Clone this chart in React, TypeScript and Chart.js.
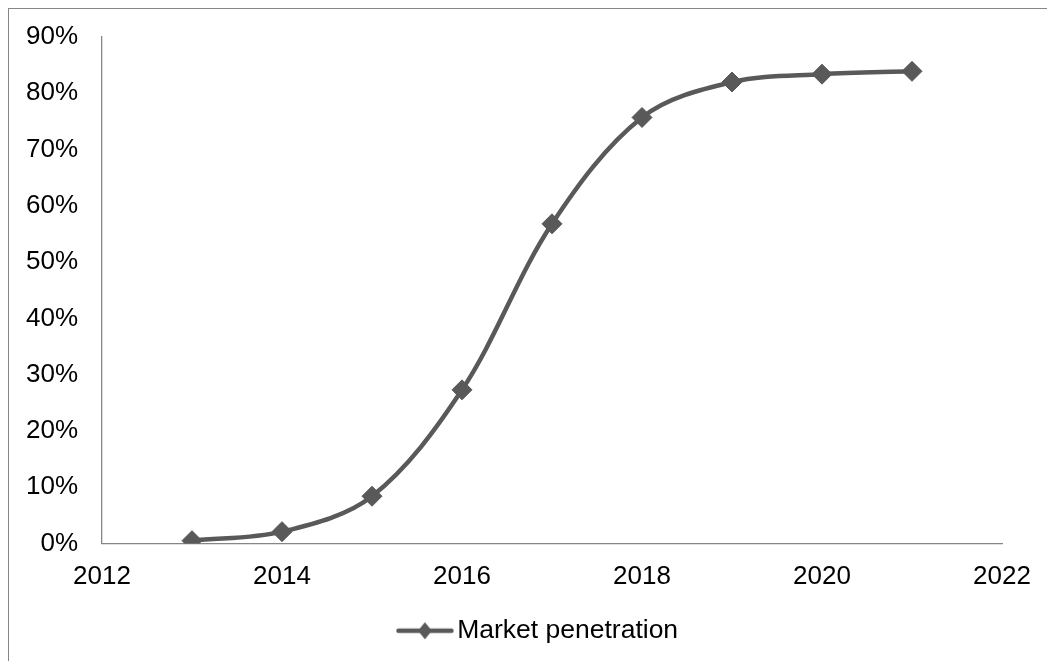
import { useEffect, useRef } from "react";
import { Chart, registerables } from "chart.js";

Chart.register(...registerables);

// Share of the market reached each year
const years = [2013, 2014, 2015, 2016, 2017, 2018, 2019, 2020, 2021];
const penetration = [0.005, 0.021, 0.084, 0.273, 0.568, 0.757, 0.82, 0.834, 0.839];
const seriesLabel = "Market penetration";

// Axis ranges
const xMin = 2012;
const xMax = 2022;
const xStep = 2;
const yMin = 0;
const yMax = 0.9;
const yStep = 0.1;

const LINE = "#595959";
const AXIS = "#868686";
const FONT = "'Liberation Sans', Arial, sans-serif";

// Line-with-diamond swatch used as the legend marker
function legendSymbol(): HTMLCanvasElement {
  const c = document.createElement("canvas");
  c.width = 58;
  c.height = 20;
  const g = c.getContext("2d")!;
  g.strokeStyle = LINE;
  g.lineWidth = 4.5;
  g.lineCap = "round";
  g.beginPath();
  g.moveTo(2.5, 10);
  g.lineTo(55.5, 10);
  g.stroke();
  g.fillStyle = LINE;
  g.beginPath();
  g.moveTo(29, 1.5);
  g.lineTo(36, 10);
  g.lineTo(29, 18.5);
  g.lineTo(22, 10);
  g.closePath();
  g.fill();
  return c;
}

// Moves the legend row sideways so it sits under the middle of the whole frame
const legendShift = {
  id: "legendShift",
  afterLayout(chart: any) {
    const lg = chart.legend;
    if (!lg) return;
    const dx = 36.5;
    lg.left += dx;
    lg.right += dx;
  },
};

export default function App() {
  const ref = useRef<HTMLCanvasElement>(null);

  useEffect(() => {
    if (!ref.current) return;
    const symbol = legendSymbol();
    const chart = new Chart(ref.current, {
      type: "scatter",
      data: {
        datasets: [
          {
            label: seriesLabel,
            data: years.map((y, i) => ({ x: y, y: penetration[i] })),
            showLine: true,
            borderColor: LINE,
            backgroundColor: LINE,
            borderWidth: 4.5,
            tension: 0.34,
            pointStyle: "rectRot",
            pointRadius: 10,
            pointBorderWidth: 1,
            pointBorderColor: LINE,
            pointBackgroundColor: LINE,
          },
        ],
      },
      options: {
        responsive: false,
        animation: false,
        layout: { padding: { left: 0, top: 28, right: 53, bottom: 7 } },
        scales: {
          x: {
            type: "linear",
            min: xMin,
            max: xMax,
            grid: { display: false, drawTicks: false },
            border: { display: true, color: AXIS, width: 1.3 },
            ticks: {
              stepSize: xStep,
              padding: 18,
              color: "#000",
              font: { family: FONT, size: 26 },
              callback: (v) => String(v),
            },
            afterFit: (s: any) => {
              s.height = 64;
              s.paddingLeft = 0;
              s.paddingRight = 0;
            },
          },
          y: {
            min: yMin,
            max: yMax,
            grid: { display: false, drawTicks: false },
            border: { display: true, color: AXIS, width: 1.3 },
            ticks: {
              stepSize: yStep,
              padding: 24,
              color: "#000",
              font: { family: FONT, size: 26 },
              callback: (v) => Math.round(Number(v) * 100) + "%",
            },
            afterFit: (s: any) => {
              s.width = 93;
              s.paddingTop = 0;
              s.paddingBottom = 0;
            },
          },
        },
        plugins: {
          tooltip: { enabled: false },
          legend: {
            position: "bottom",
            labels: {
              usePointStyle: true,
              pointStyleWidth: 38,
              padding: 10,
              color: "#000",
              font: { family: FONT, size: 26.5 },
              generateLabels: (c: any) =>
                Chart.defaults.plugins.legend.labels
                  .generateLabels(c)
                  .map((item: any) => ({ ...item, pointStyle: symbol })),
            },
          },
        },
      },
      plugins: [legendShift],
    });
    return () => chart.destroy();
  }, []);

  return (
    <div
      style={{
        width: 1046,
        height: 652,
        borderTop: `1px solid ${AXIS}`,
        borderLeft: `1px solid ${AXIS}`,
        overflow: "hidden",
      }}
    >
      <canvas ref={ref} width={1046} height={652} style={{ display: "block" }} />
    </div>
  );
}
